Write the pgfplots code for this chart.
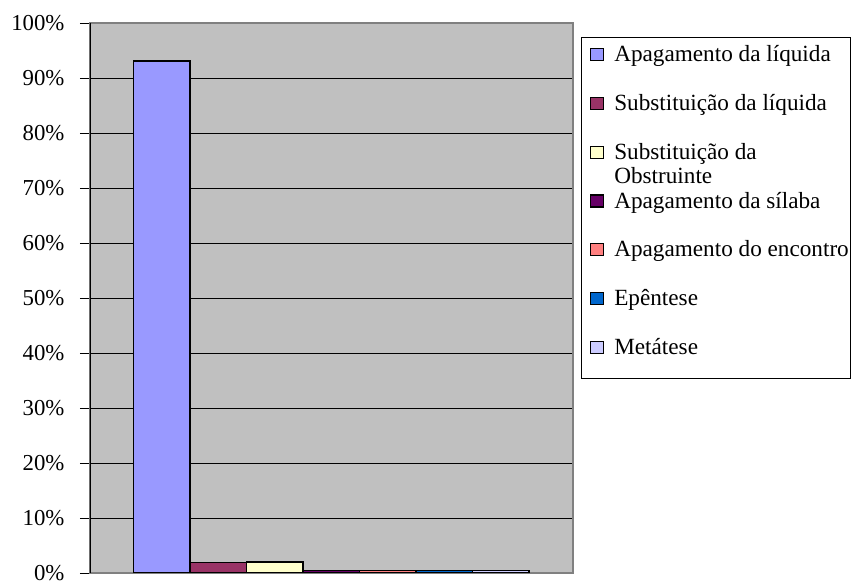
\documentclass[border=0pt]{standalone}
\usepackage{pgfplots}
\pgfplotsset{compat=1.18}
\usepackage{fontspec}
\setmainfont{Liberation Serif}
\definecolor{plotgray}{HTML}{C0C0C0}
\definecolor{bordergray}{HTML}{808080}
\definecolor{c1}{HTML}{9999FF}
\definecolor{c2}{HTML}{993366}
\definecolor{c3}{HTML}{FFFFCC}
\definecolor{c4}{HTML}{660066}
\definecolor{c5}{HTML}{FF8080}
\definecolor{c6}{HTML}{0066CC}
\definecolor{c7}{HTML}{CCCCFF}
\begin{document}
\begin{tikzpicture}[x=1pt,y=1pt]
\path[use as bounding box] (0,0) rectangle (852,584);
\begin{axis}[
  at={(90pt,11pt)}, anchor=south west,
  scale only axis, width=483pt, height=550pt,
  xmin=-4.27, xmax=4.28, ymin=0, ymax=100,
  ybar, bar width=1, bar shift=0pt,
  axis background/.style={fill=plotgray},
  axis line style={draw=bordergray, line width=1.2pt},
  xtick=\empty,
  ytick={0,10,...,100},
  yticklabels={0\%,10\%,20\%,30\%,40\%,50\%,60\%,70\%,80\%,90\%,100\%},
  ytick pos=left,
  tick align=outside,
  major tick length=10pt,
  tick style={black, line width=0.9pt},
  ymajorgrids, grid style={black, line width=0.9pt},
  yticklabel style={font=\fontsize{22.8}{26}\selectfont, xshift=-12pt},
  every axis plot/.append style={draw=black, line width=1.2pt},
  legend cell align=left,
  legend image code/.code={\draw[#1, line width=1.3pt] (6.5pt,1pt) rectangle (19pt,13pt); \path (0pt,0pt) (29.5pt,0pt);},
  legend style={
    at={(1.0166,0.9745)}, anchor=north west,
    draw=black, line width=1.2pt, fill=white,
    font=\fontsize{23.2}{27}\selectfont,
    inner xsep=2pt, inner ysep=9pt,
    row sep=18.8pt,
    nodes={inner sep=0pt, text height=15pt, text depth=15pt},
  },
]
\addplot[fill=c1] coordinates {(-3,93.1)};
\addlegendentry{Apagamento da líquida}
\addplot[fill=c2] coordinates {(-2,1.9)};
\addlegendentry{Substituição da líquida}
\addplot[fill=c3] coordinates {(-1,2.0)};
\addlegendentry{\vtop{\baselineskip=24pt\hbox{Substituição da}\hbox{Obstruinte}}}
\addplot[fill=c4] coordinates {(0,0.5)};
\addlegendentry{Apagamento da sílaba}
\addplot[fill=c5] coordinates {(1,0.5)};
\addlegendentry{Apagamento do encontro}
\addplot[fill=c6] coordinates {(2,0.5)};
\addlegendentry{Epêntese}
\addplot[fill=c7] coordinates {(3,0.5)};
\addlegendentry{Metátese}
\draw[black, line width=1.2pt] (rel axis cs:0,0) -- (rel axis cs:0,1);
\end{axis}
\end{tikzpicture}
\end{document}
